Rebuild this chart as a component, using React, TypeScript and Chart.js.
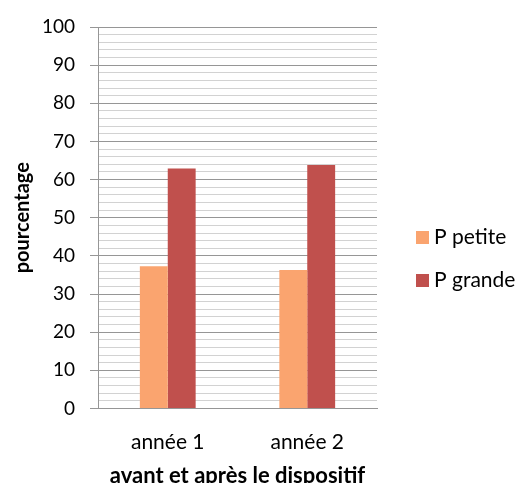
import { useEffect, useRef } from 'react';
import { Chart, registerables } from 'chart.js';

Chart.register(...registerables);

const categories = ['année 1', 'année 2'];
const seriesNames = ['P petite', 'P grande'];
const pPetite = [37.3, 36.3];
const pGrande = [62.9, 63.8];
const seriesColors = ['#FAA46F', '#C0504D'];
const yMin = 0;
const yMax = 100;
const yMajorStep = 10;
const yMinorStep = 2;
const yTitle = 'pourcentage';
const xTitle = 'avant et après le dispositif';

const FONT = 'Lato';

const sideLegend = {
  id: 'sideLegend',
  afterDraw(chart: any) {
    const ctx = chart.ctx;
    const area = chart.chartArea;
    const x0 = area.right + 39;
    const yStart = 237.5;
    const gap = 43;
    ctx.save();
    ctx.font = `21px ${FONT}`;
    ctx.textBaseline = 'middle';
    ctx.textAlign = 'left';
    chart.data.datasets.forEach((ds: any, i: number) => {
      const cy = yStart + i * gap;
      ctx.fillStyle = ds.backgroundColor;
      ctx.fillRect(x0, cy - 6.5, 13, 13);
      ctx.fillStyle = '#000';
      ctx.fillText(ds.label, x0 + 18, cy);
    });
    ctx.restore();
  },
};

export default function App() {
  const ref = useRef<HTMLCanvasElement>(null);

  useEffect(() => {
    document.body.style.margin = '0';
    const canvas = ref.current;
    if (!canvas) return;
    const isMajor = (v: number) => Math.abs(v % yMajorStep) < 1e-6;
    const chart = new Chart(canvas, {
      type: 'bar',
      data: {
        labels: categories,
        datasets: [
          { label: seriesNames[0], data: pPetite, backgroundColor: seriesColors[0] },
          { label: seriesNames[1], data: pGrande, backgroundColor: seriesColors[1] },
        ],
      },
      options: {
        responsive: false,
        animation: false,
        devicePixelRatio: 1,
        layout: { padding: { left: 0, right: 143, top: 27, bottom: 0 } },
        datasets: {
          bar: { barPercentage: 1, categoryPercentage: 0.4 },
        },
        plugins: {
          legend: { display: false },
          tooltip: { enabled: false },
        },
        scales: {
          x: {
            grid: { display: false, drawTicks: false },
            border: { display: true, color: '#969696', width: 1 },
            ticks: {
              color: '#000',
              padding: 21,
              font: { family: FONT, size: 21 },
            },
            title: {
              display: true,
              text: xTitle,
              color: '#000',
              font: { family: FONT, size: 22, weight: 'bold', lineHeight: 1.2 },
              padding: { top: 0, bottom: -6 },
            },
            afterFit: (s: any) => {
              s.height = 74.5;
            },
          },
          y: {
            min: yMin,
            max: yMax,
            grid: {
              color: (c: any) => (isMajor(c.tick?.value ?? 0) ? '#969696' : '#D2D2D2'),
              tickColor: (c: any) => (isMajor(c.tick?.value ?? 0) ? '#969696' : 'rgba(0,0,0,0)'),
              tickLength: 8,
              lineWidth: 1,
            },
            border: { display: true, color: '#969696', width: 1 },
            ticks: {
              stepSize: yMinorStep,
              maxTicksLimit: 100,
              autoSkip: false,
              color: '#000',
              padding: 15,
              font: { family: FONT, size: 19 },
              callback: (v: any) => (isMajor(Number(v)) ? String(v) : ''),
            },
            title: {
              display: true,
              text: yTitle,
              color: '#000',
              font: { family: FONT, size: 20, weight: 'bold', lineHeight: 1.2 },
              padding: { top: 11, bottom: 0 },
            },
            afterFit: (s: any) => {
              s.width = 98;
            },
          },
        },
      },
      plugins: [sideLegend],
    });
    return () => chart.destroy();
  }, []);

  return (
    <div style={{ position: 'fixed', left: 0, top: 0, width: 520, height: 483, background: '#fff' }}>
      <canvas ref={ref} width={520} height={483} style={{ display: 'block', width: 520, height: 483 }} />
    </div>
  );
}
